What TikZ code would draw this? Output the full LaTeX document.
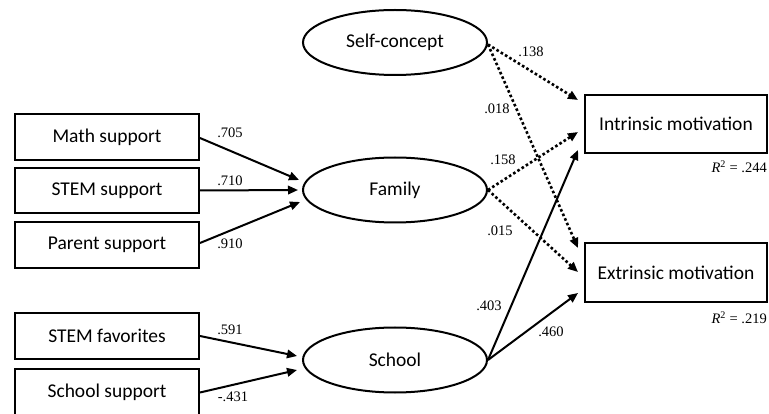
\documentclass[tikz,border=0pt]{standalone}
\usepackage{fontspec}
\setmainfont{Liberation Serif}
\newfontfamily\boxfont{Carlito}
\usetikzlibrary{arrows.meta,calc,shapes.geometric}
\tikzset{
  obs/.style={draw,line width=2pt,font=\boxfont\fontsize{19.5}{23}\selectfont,inner sep=0pt},
  lat/.style={draw,ellipse,line width=2pt,minimum width=184pt,minimum height=65pt,inner sep=0pt,font=\boxfont\fontsize{19.5}{23}\selectfont},
  arr/.style={line width=2pt,-{Triangle[length=10pt,width=8.5pt]}},
  dot/.style={arr,line width=2.6pt,dash pattern=on 2.6pt off 2.4pt},
  coef/.style={font=\fontsize{14.5}{16}\selectfont,inner sep=0pt}
}
\begin{document}
\begin{tikzpicture}[x=1pt,y=-1pt]
\useasboundingbox (0,0) rectangle (769,414);
% observed indicators
\node[obs,minimum width=184pt,minimum height=46pt] (ms) at (107,137) {Math support};
\node[obs,minimum width=184pt,minimum height=45pt] (ss) at (107,190.5) {STEM support};
\node[obs,minimum width=184pt,minimum height=46pt] (ps) at (107,245) {Parent support};
\node[obs,minimum width=184pt,minimum height=46pt] (sf) at (107,336) {STEM favorites};
\node[obs,minimum width=184pt,minimum height=47pt,text depth=0pt] (scs) at (107,392.5) {};
\node[font=\boxfont\fontsize{19.5}{23}\selectfont] (scst) at (107,392) {School support};
% latent
\node[lat] (sc) at (395,42.5) {Self-concept};
\node[lat] (fam) at (395,190) {Family};
\node[lat] (sch) at (395,360) {School};
% outcomes
\node[obs,minimum width=182pt,minimum height=58pt] (intr) at (676,124) {Intrinsic motivation};
\node[obs,minimum width=182pt,minimum height=59pt] (extr) at (676,273) {Extrinsic motivation};
% R2 labels
\node[coef,anchor=east] (r1) at (767,167) {\textit{R}\textsuperscript{2} = .244};
\node[coef,anchor=east] (r2) at (767,318) {\textit{R}\textsuperscript{2} = .219};
% left arrows
\draw[arr] ($(ms.east)+(0,1)$) -- ($(fam.west)+(-3,-10)$);
\draw[arr] (ss.east) -- ($(fam.west)+(-4,0)$);
\draw[arr] ($(ps.east)+(0,-2)$) -- ($(fam.west)+(-2,12)$);
\draw[arr] (sf.east) -- ($(sch.west)+(-5,-4)$);
\draw[arr] ($(scs.east)+(0,0)$) -- ($(sch.west)+(-5,10)$);
% right arrows
\draw[dot] ($(sc.east)+(0,2)$) -- ($(intr.west)+(-6,-24)$);
\draw[dot] ($(sc.east)+(0,2)$) -- ($(extr.west)+(-6,-25)$);
\draw[dot] (fam.east) -- ($(intr.west)+(-6,8)$);
\draw[dot] (fam.east) -- ($(extr.west)+(-6,-1)$);
\draw[arr] (sch.east) -- ($(intr.west)+(-6,26)$);
\draw[arr] (sch.east) -- ($(extr.west)+(-6,20)$);
% coefficients
\node[coef] (c1) at (230,133) {.705};
\node[coef] (c2) at (230,181) {.710};
\node[coef] (c3) at (230,244) {.910};
\node[coef] (c4) at (230,330) {.591};
\node[coef] (c5) at (233,397) {-.431};
\node[coef] (c6) at (531,52) {.138};
\node[coef] (c7) at (497,109) {.018};
\node[coef] (c8) at (503,160) {.158};
\node[coef] (c9) at (500,231) {.015};
\node[coef] (c10) at (489,306) {.403};
\node[coef] (c11) at (551,332) {.460};
\end{tikzpicture}
\end{document}
